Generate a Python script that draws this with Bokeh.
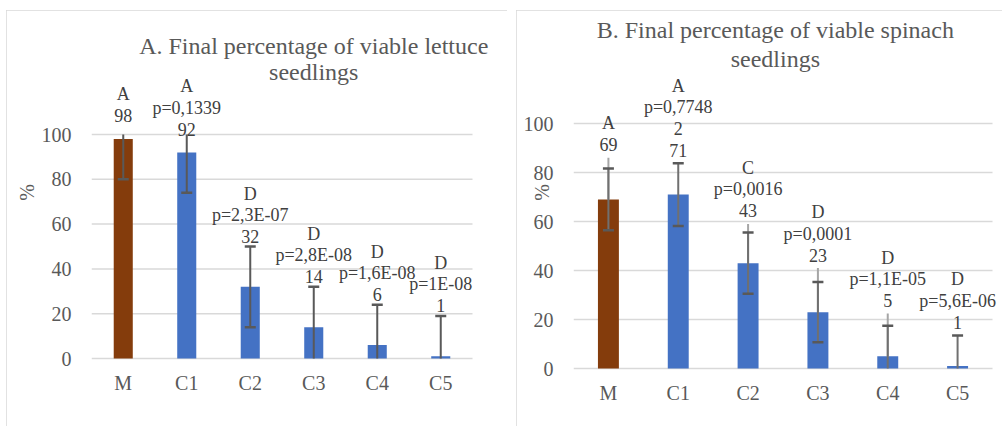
import math
from bokeh.plotting import figure
from bokeh.layouts import row
from bokeh.models import Range1d, FixedTicker, ColumnDataSource, Label
from bokeh.core.properties import value
from bokeh.embed import file_html
from bokeh.resources import INLINE

# ---------------- data ----------------
categories = ["M", "C1", "C2", "C3", "C4", "C5"]
y_ticks = [0, 20, 40, 60, 80, 100]

lettuce_title = ["A. Final percentage of viable lettuce", "seedlings"]
lettuce_values = [98, 92, 32, 14, 6, 1]
lettuce_sd = [18, 18, 18, 18, 18, 18]
lettuce_letters = ["A", "A", "D", "D", "D", "D"]
lettuce_pvalues = ["", "p=0,1339", "p=2,3E-07", "p=2,8E-08", "p=1,6E-08", "p=1E-08"]

spinach_title = ["B. Final percentage of viable spinach", "seedlings"]
spinach_values = [69, 71, 43, 23, 5, 1]
spinach_sd = [12.6, 12.8, 12.5, 12.3, 12.5, 12.5]
spinach_sd2 = [17, float("nan"), 16, 18, 17.4, float("nan")]
spinach_letters = ["A", "A", "C", "D", "D", "D"]
spinach_pvalues = ["", "p=0,7748\n2", "p=0,0016", "p=0,0001", "p=1,1E-05", "p=5,6E-06"]

bar_colors = ["#843C0C", "#4472C4", "#4472C4", "#4472C4", "#4472C4", "#4472C4"]

FONT = "Liberation Serif"
GRID = "#d9d9d9"
LINE_H = 21.5


def make_chart(title, title_x, title_ys, vals, sd, sd2, letters, pvals,
               W, H, margin, mbl, mbr, mbt, mbb, x_end, y_start, y_end,
               ytick_standoff, ylab_standoff, xtick_standoff, gap, clipped_gap,
               err_stem, styles):
    n = len(categories)
    xs = [i + 0.5 for i in range(n)]
    p = figure(width=W, height=H, x_range=Range1d(0, x_end), y_range=Range1d(y_start, y_end),
               output_backend="svg", toolbar_location=None,
               min_border_left=mbl, min_border_right=mbr,
               min_border_top=mbt, min_border_bottom=mbb,
               margin=margin, styles=styles)
    p.outline_line_color = None
    p.background_fill_color = "white"
    p.border_fill_color = "white"
    p.xgrid.grid_line_color = None
    p.ygrid.grid_line_color = None

    # horizontal gridlines across the category area only (plot area of the original)
    p.segment(x0=[0] * len(y_ticks), y0=y_ticks, x1=[n] * len(y_ticks), y1=y_ticks,
              line_color=GRID, line_width=1.5)

    # axes
    p.yaxis.ticker = FixedTicker(ticks=y_ticks)
    p.yaxis.axis_line_color = None
    p.yaxis.major_tick_line_color = None
    p.yaxis.minor_tick_line_color = None
    p.yaxis.major_label_standoff = ytick_standoff
    p.yaxis.major_label_text_font = FONT
    p.yaxis.major_label_text_font_size = "20px"
    p.yaxis.major_label_text_color = "#595959"
    p.yaxis.axis_label = "%"
    p.yaxis.axis_label_text_font = FONT
    p.yaxis.axis_label_text_font_size = "20px"
    p.yaxis.axis_label_text_font_style = "normal"
    p.yaxis.axis_label_text_color = "#595959"
    p.yaxis.axis_label_standoff = ylab_standoff

    p.xaxis.ticker = FixedTicker(ticks=xs)
    p.xaxis.major_label_overrides = {x: c for x, c in zip(xs, categories)}
    p.xaxis.axis_line_color = None
    p.xaxis.major_tick_line_color = None
    p.xaxis.minor_tick_line_color = None
    p.xaxis.major_label_standoff = xtick_standoff
    p.xaxis.major_label_text_font = FONT
    p.xaxis.major_label_text_font_size = "20px"
    p.xaxis.major_label_text_color = "#595959"

    # bars
    p.vbar(x=xs, top=vals, bottom=0, width=0.3, fill_color=bar_colors, line_color=None)

    # secondary (lighter) error lines
    if sd2 is not None:
        sx, s0, s1 = [], [], []
        for x, v, e in zip(xs, vals, sd2):
            if not math.isnan(e):
                sx.append(x); s0.append(v); s1.append(min(v + e, 100))
        p.segment(x0=sx, y0=s0, x1=sx, y1=s1, line_color="#a6a6a6", line_width=2)

    # main error bars (clipped to the 0..100 axis like the original)
    lo = [max(v - e, 0) for v, e in zip(vals, sd)]
    hi = [min(v + e, 100) for v, e in zip(vals, sd)]
    p.segment(x0=xs, y0=lo, x1=xs, y1=hi, line_color=err_stem, line_width=2)
    cx, cy = [], []
    for x, v, e in zip(xs, vals, sd):
        if v - e >= 0:
            cx.append(x); cy.append(v - e)
        if v + e <= 100:
            cx.append(x); cy.append(v + e)
    p.scatter(x=cx, y=cy, marker="dash", size=11, line_color="#595959", line_width=2.5)

    # data labels (value, p-value, letter) stacked upward above the error bar
    lx, ly, lt, lo_ = [], [], [], []
    for i, (x, v, e) in enumerate(zip(xs, vals, sd)):
        top = v + e
        if sd2 is not None and not math.isnan(sd2[i]):
            top = max(top, v + sd2[i])
        g = gap if top <= 100 else clipped_gap
        lines = [str(v)]
        if pvals[i]:
            lines += list(reversed(pvals[i].split("\n")))
        lines.append(letters[i])
        for k, t in enumerate(lines):
            lx.append(x); ly.append(top); lt.append(t); lo_.append(-(g + k * LINE_H))
    src = ColumnDataSource(dict(x=lx, y=ly, text=lt, yo=lo_))
    p.text(x="x", y="y", text="text", y_offset="yo", source=src,
           text_align="center", text_baseline="alphabetic",
           text_font=value(FONT), text_font_size="18px", text_color="#404040")

    # chart title (two lines)
    for t, ty in zip(title, title_ys):
        p.add_layout(Label(x=title_x, y=ty, text=t, text_align="center", text_baseline="middle",
                           text_font=FONT, text_font_size="24px", text_color="#595959"))
    return p


H = 416
border = {"outline": "2px solid #d9d9d9", "outline-offset": "-2px"}
border_cut_right = dict(border, **{"clip-path": "inset(0 2px 0 0)"})
# page coords: A plot area x 91..472, y(0)=358, y(100)=134 ; B plot area x 573..992, y(0)=368, y(100)=123
# shared frame: top y=14, bottom y=370 (canvas top at y=10); frames extend right for the texts
pA = make_chart(lettuce_title, 3.5, [139.7, 127.7], lettuce_values, lettuce_sd, None,
                lettuce_letters, lettuce_pvalues,
                W=501, H=H, margin=(10, 0, 0, 6), mbl=85, mbr=3, mbt=4, mbb=56,
                x_end=6 + (504 - 472) / 63.5,
                y_start=-12 / 2.24, y_end=(358 - 14) / 2.24,
                ytick_standoff=14, ylab_standoff=1, xtick_standoff=-5, gap=10, clipped_gap=-17,
                err_stem="#595959", styles=border)
pB = make_chart(spinach_title, 2.89, [138, 126.5], spinach_values, spinach_sd, spinach_sd2,
                spinach_letters, spinach_pvalues,
                W=488, H=H, margin=(10, 0, 0, 9), mbl=57, mbr=2, mbt=4, mbb=56,
                x_end=6 + (1002 - 992) / 69.83,
                y_start=-2 / 2.45, y_end=(368 - 14) / 2.45,
                ytick_standoff=14, ylab_standoff=-32, xtick_standoff=5, gap=13, clipped_gap=-17,
                err_stem="#707070", styles=border_cut_right)

layout = row(pA, pB)
open("out.html", "w").write(file_html(layout, INLINE))
